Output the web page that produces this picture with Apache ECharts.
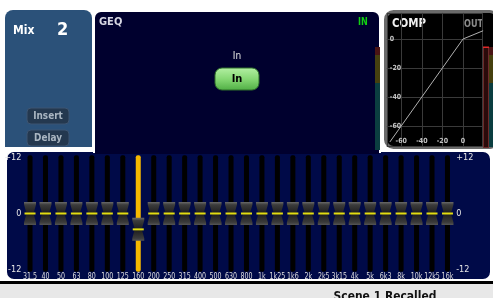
<!DOCTYPE html>
<html>
<head>
<meta charset="utf-8">
<script src="https://cdn.jsdelivr.net/npm/echarts@6/dist/echarts.min.js"></script>
<style>
  html, body { margin: 0; padding: 0; background: #fff; }
  #main { width: 493px; height: 298px; }
</style>
</head>
<body>
<div id="main"></div>
<script>
  // GEQ bands and fader gains (dB)
  const bands = ['31.5', '40', '50', '63', '80', '100', '125', '160', '200', '250', '315', '400', '500', '630',
    '800', '1k', '1k25', '1k6', '2k', '2k5', '3k15', '4k', '5k', '6k3', '8k', '10k', '12k5', '16k'];
  const gains = [0, 0, 0, 0, 0, 0, 0, -3.4, 0, 0, 0, 0, 0, 0,
    0, 0, 0, 0, 0, 0, 0, 0, 0, 0, 0, 0, 0, 0];
  const selectedBand = 7;
  const gainTicks = [-12, 0, 12];
  const trackRange = 12.5;

  // compressor transfer curve (in dB -> out dB)
  const compIn = [-71, 0, 19.5];
  const compOut = [-71, 0, 5.7];
  const compTicks = [-60, -40, -20, 0];

  const NARROW = '"Liberation Sans Narrow", "DejaVu Sans Condensed", sans-serif';

  const capShape = [[-6, -11.5], [6, -11.5], [6, -9], [3.5, 0], [6, 9], [6, 11.5],
    [-6, 11.5], [-6, 9], [-3.5, 0], [-6, -9]];

  function txt(x, y, text, size, color, extra, sx) {
    return {
      type: 'text', x: x, y: y, scaleX: sx || 1,
      style: Object.assign({
        text: text, fill: color, fontSize: size, fontWeight: 'bold',
        fontFamily: NARROW, align: 'left', verticalAlign: 'middle'
      }, extra || {})
    };
  }

  const chart = echarts.init(document.getElementById('main'));

  const graphics = [
    // status bar
    { type: 'rect', shape: { x: 0, y: 281, width: 493, height: 3 }, style: { fill: '#000' } },
    { type: 'rect', shape: { x: 0, y: 284, width: 493, height: 14 }, style: { fill: '#e8e8e8' } },
    txt(385, 296.5, 'Scene 1 Recalled', 13, '#111', { align: 'center' }, 0.92),

    // mix panel
    { type: 'rect', shape: { x: 5, y: 10, width: 87, height: 137, r: [8, 8, 0, 0] }, style: { fill: '#2b5179' } },
    txt(13, 31, 'Mix', 12, '#fff'),
    txt(57, 30, '2', 18, '#fff'),
    { type: 'rect', shape: { x: 27, y: 108, width: 42, height: 16, r: 4 }, style: { fill: '#24384f', stroke: '#3d5572', lineWidth: 1 } },
    txt(48, 116, 'Insert', 11, '#aab6c2', { align: 'center' }, 0.9),
    { type: 'rect', shape: { x: 27, y: 130, width: 42, height: 16, r: 4 }, style: { fill: '#24384f', stroke: '#3d5572', lineWidth: 1 } },
    txt(48, 138, 'Delay', 11, '#aab6c2', { align: 'center' }, 0.9),

    // fader panel
    { type: 'rect', shape: { x: 6, y: 151, width: 485, height: 129, r: 8 }, style: { fill: '#000a48', stroke: '#fff', lineWidth: 2 } },

    // GEQ tab
    { type: 'rect', shape: { x: 94, y: 11, width: 286, height: 141, r: [7, 7, 0, 0] }, style: { fill: '#00002e', stroke: '#fff', lineWidth: 2 } },
    { type: 'rect', shape: { x: 95, y: 146, width: 284, height: 8 }, style: { fill: '#00002e' } },
    txt(99, 22, 'GEQ', 11, '#d8d8e4'),
    txt(358, 22, 'IN', 10, '#12d012', null, 0.9),
    txt(237, 56.5, 'In', 10, '#e4e4e4', { align: 'center', fontWeight: 'normal' }),
    { type: 'rect', shape: { x: 215, y: 68, width: 44, height: 22, r: 7 },
      style: { fill: new echarts.graphic.LinearGradient(0, 0, 0, 1, [
        { offset: 0, color: '#b4f0a4' }, { offset: 0.5, color: '#86d874' }, { offset: 1, color: '#4fae44' }]),
        stroke: '#2f6f2a', lineWidth: 1 } },
    txt(237, 79, 'In', 11, '#000', { align: 'center' }),
    { type: 'rect', shape: { x: 375, y: 47, width: 5, height: 8 }, style: { fill: '#4a1414' } },
    { type: 'rect', shape: { x: 375, y: 55, width: 5, height: 28 }, style: { fill: '#46400f' } },
    { type: 'rect', shape: { x: 375, y: 83, width: 5, height: 67 }, style: { fill: '#0b3e40' } },

    // comp panel
    { type: 'rect', shape: { x: 385.5, y: 11.5, width: 112, height: 136, r: 8 }, style: { fill: '#000', stroke: '#6a6a6a', lineWidth: 3 } },
    txt(392, 24, 'COMP', 13, '#f2f2f2', null, 0.88),
    txt(464, 24, 'OUT', 10, '#8c8c8c', null, 0.9),
    { type: 'rect', shape: { x: 483.5, y: 47.5, width: 5, height: 100 }, style: { fill: '#2a0a0a', stroke: '#6b2a2a', lineWidth: 1 } },
    { type: 'rect', shape: { x: 483, y: 46.5, width: 6, height: 1.5 }, style: { fill: '#e02828' } },
    { type: 'rect', shape: { x: 489, y: 47, width: 4, height: 8 }, style: { fill: '#4a1414' } },
    { type: 'rect', shape: { x: 489, y: 55, width: 4, height: 28 }, style: { fill: '#46400f' } },
    { type: 'rect', shape: { x: 489, y: 83, width: 4, height: 64 }, style: { fill: '#0b3e40' } }
  ];

  const capFill = new echarts.graphic.LinearGradient(0, 0, 0, 1, [
    { offset: 0, color: '#6a6a6a' }, { offset: 0.12, color: '#3c3c3c' },
    { offset: 0.5, color: '#1c1c1c' }, { offset: 0.88, color: '#3a3a3a' }, { offset: 1, color: '#555' }]);

  const option = {
    animation: false,
    graphic: { elements: graphics },
    grid: [
      { left: 22.3, top: 157.5, width: 432.9, height: 112 },
      { left: 386.8, top: 12.9, width: 95.8, height: 133.4 }
    ],
    xAxis: [
      {
        gridIndex: 0, type: 'category', data: bands,
        axisLine: { show: false }, axisTick: { show: false },
        axisLabel: { show: false }
      },
      {
        gridIndex: 1, type: 'value', min: -74, max: 19, z: 3,
        axisLine: { show: false }, axisTick: { show: false },
        splitLine: { show: true, lineStyle: { color: '#3a3a3a', width: 1 } },
        axisLabel: {
          inside: true, margin: 2, color: '#c4c4c4', fontSize: 7, fontWeight: 'bold', fontFamily: NARROW,
          showMinLabel: false, showMaxLabel: false,
          formatter: v => compTicks.includes(v) ? String(v) : ''
        }
      }
    ],
    yAxis: [
      {
        gridIndex: 0, type: 'value', min: -12, max: 12, interval: 12,
        axisLine: { show: false }, axisTick: { show: false }, splitLine: { show: false },
        axisLabel: { margin: 1, color: '#e6e6e6', fontSize: 9, fontFamily: NARROW,
          formatter: v => gainTicks.includes(v) ? (v > 0 ? '+' + v : String(v)) : '' }
      },
      {
        gridIndex: 0, type: 'value', position: 'right', min: -12, max: 12, interval: 12,
        axisLine: { show: false }, axisTick: { show: false }, splitLine: { show: false },
        axisLabel: { margin: 1, color: '#e6e6e6', fontSize: 9, fontFamily: NARROW,
          formatter: v => gainTicks.includes(v) ? (v > 0 ? '+' + v : String(v)) : '' }
      },
      {
        gridIndex: 1, type: 'value', min: -74, max: 18, z: 3,
        axisLine: { show: false }, axisTick: { show: false },
        splitLine: { show: true, lineStyle: { color: '#3a3a3a', width: 1 } },
        axisLabel: {
          inside: true, margin: 3, color: '#c4c4c4', fontSize: 7, fontWeight: 'bold', fontFamily: NARROW,
          showMinLabel: false, showMaxLabel: false,
          formatter: v => compTicks.includes(v) ? String(v) : ''
        }
      }
    ],
    series: [
      {
        type: 'custom', xAxisIndex: 0, yAxisIndex: 0,
        data: gains.map((g, i) => [i, g]),
        encode: { x: 0, y: 1 },
        renderItem: function (params, api) {
          const i = api.value(0);
          const top = api.coord([i, trackRange]);
          const bot = api.coord([i, -trackRange]);
          const cap = api.coord([i, api.value(1)]);
          const base = api.coord([i, -gainTicks[2]]);
          const x = cap[0];
          const sel = i === selectedBand;
          return {
            type: 'group',
            children: [
              { type: 'rect', shape: { x: x - 2.5, y: top[1], width: 5, height: bot[1] - top[1], r: 2 },
                style: { fill: sel ? '#f6b800' : '#000' } },
              { type: 'polygon', shape: { points: capShape.map(p => [x + p[0], cap[1] + p[1]]) },
                style: { fill: capFill } },
              { type: 'rect', shape: { x: x - 5.5, y: cap[1] - 1, width: 11, height: 2 },
                style: { fill: '#e2dc12' } },
              { type: 'text', x: x, y: base[1] + 7, scaleX: 0.78,
                style: { text: bands[i], fill: '#dedede', fontSize: 9, fontFamily: NARROW,
                  align: 'center', verticalAlign: 'middle' } }
            ]
          };
        }
      },
      {
        type: 'line', xAxisIndex: 1, yAxisIndex: 2,
        data: compIn.map((v, i) => [v, compOut[i]]),
        symbol: 'none', z: 4,
        lineStyle: { color: '#b0b0b0', width: 1 }
      }
    ]
  };

  chart.setOption(option);
</script>
</body>
</html>
